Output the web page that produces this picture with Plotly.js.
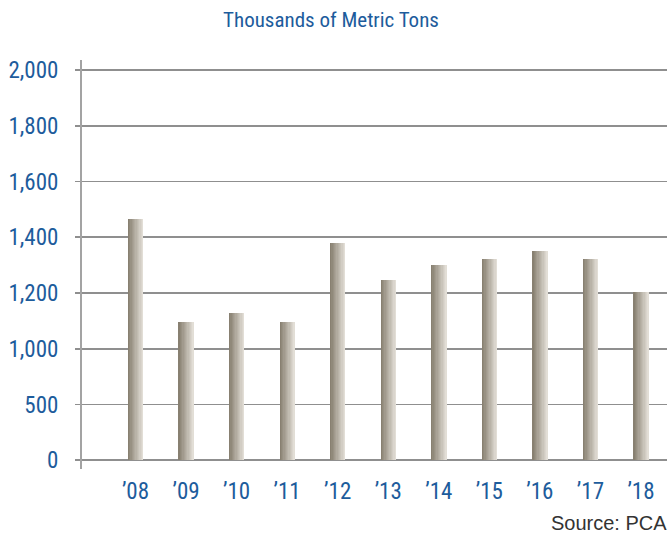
<!DOCTYPE html>
<html>
<head>
<meta charset="utf-8">
<script src="https://cdn.plot.ly/plotly-3.0.1.min.js"></script>
<style>html,body{margin:0;padding:0;background:#fff;}#chart{width:669px;height:538px;}</style>
</head>
<body>
<div id="chart"></div>
<script>
// Data
const years = ["\u201908","\u201909","\u201910","\u201911","\u201912","\u201913","\u201914","\u201915","\u201916","\u201917","\u201918"];
const tonnage = [1466, 1097, 1129, 1097, 1380, 1248, 1301, 1323, 1352, 1323, 1202];
const yTickValues = [0, 500, 1000, 1200, 1400, 1600, 1800, 2000];
const yTickLabels = ["0", "500", "1,000", "1,200", "1,400", "1,600", "1,800", "2,000"];

// Broken (piecewise linear) value axis: each labelled tick is equally spaced
function axisPos(v) {
  for (let i = 0; i < yTickValues.length - 1; i++) {
    const a = yTickValues[i], b = yTickValues[i + 1];
    if (v <= b || i === yTickValues.length - 2) {
      return i + (v - a) / (b - a);
    }
  }
}

const blue = '#1d5c9c';
const condensed = '"Roboto Condensed", "Liberation Sans Narrow", Arial, sans-serif';

// Each bar drawn as thin vertical strips to give the left-dark / right-light shading
const strips = 12;
const barW = 0.30;
const c0 = [136, 128, 113], c1 = [226, 222, 214];
const traces = [];
for (let i = 0; i < strips; i++) {
  const t = i / (strips - 1);
  const col = c0.map((c, k) => Math.round(c + (c1[k] - c) * t));
  const w = barW / strips;
  traces.push({
    type: 'bar',
    x: years,
    y: tonnage.map(axisPos),
    customdata: tonnage,
    width: w + 0.004,
    offset: -barW / 2 + i * w,
    marker: { color: 'rgb(' + col.join(',') + ')', line: { width: 0 } },
    hovertemplate: '%{x}: %{customdata}<extra></extra>',
    showlegend: false
  });
}

const layout = {
  width: 669, height: 538,
  margin: { l: 82, r: 2, t: 60, b: 69 },
  paper_bgcolor: '#fff', plot_bgcolor: '#fff',
  barmode: 'overlay',
  bargap: 0,
  title: {
    text: 'Thousands of Metric Tons',
    font: { family: condensed, size: 21, color: blue },
    x: 331 / 669, xanchor: 'center', xref: 'container',
    y: 1 - 20 / 538, yanchor: 'middle', yref: 'container'
  },
  xaxis: {
    type: 'category',
    range: [-1.058, 10.515],
    showgrid: false, zeroline: false, showline: false,
    ticks: 'outside', ticklen: 1, tickcolor: 'rgba(0,0,0,0)',
    tickfont: { family: condensed, size: 23, color: blue },
    fixedrange: true
  },
  yaxis: {
    range: [-0.156, 7.18],
    tickvals: yTickValues.map(axisPos),
    ticktext: yTickLabels,
    showgrid: true, gridcolor: '#8f8f8f', gridwidth: 1.6,
    zeroline: false,
    showline: true, linecolor: '#a3a3a3', linewidth: 2,
    ticks: 'outside', ticklen: 5, tickwidth: 1.6, tickcolor: '#8f8f8f',
    ticklabelstandoff: 12,
    tickfont: { family: condensed, size: 23, color: blue },
    fixedrange: true
  },
  annotations: [{
    text: 'Source: PCA',
    xref: 'paper', yref: 'paper',
    x: 1.003, y: (469 - 523) / 409,
    xanchor: 'right', yanchor: 'middle',
    showarrow: false,
    font: { family: '"Liberation Sans", Arial, sans-serif', size: 20, color: '#333333' }
  }]
};

Plotly.newPlot('chart', traces, layout, { displayModeBar: false, staticPlot: true });
</script>
</body>
</html>
